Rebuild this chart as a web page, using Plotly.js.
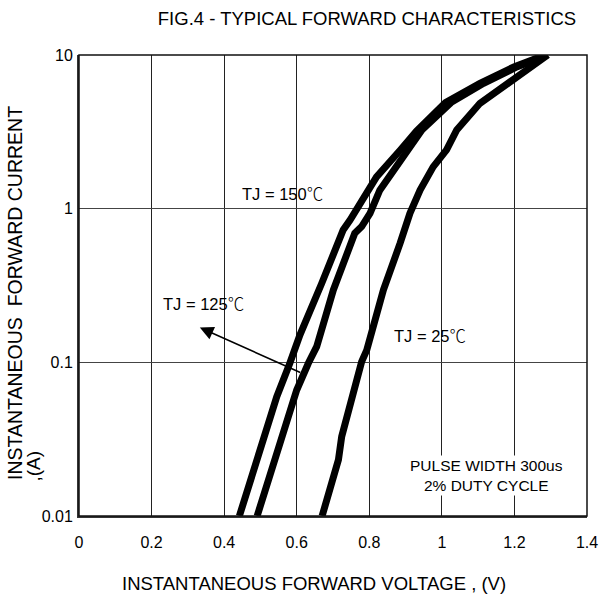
<!DOCTYPE html>
<html>
<head>
<meta charset="utf-8">
<script src="https://cdn.plot.ly/plotly-3.0.1.min.js"></script>
<style>html,body{margin:0;padding:0;background:#fff;}#chart{width:610px;height:596px;}</style>
</head>
<body>
<div id="chart"></div>
<script>
// Forward voltage (V) and forward current (A)
const vf150 = [0.442, 0.508, 0.545, 0.581, 0.609, 0.669, 0.728, 0.747, 0.820, 0.885, 0.930, 1.010, 1.105, 1.200, 1.285];
const if150 = [0.0100, 0.0313, 0.0598, 0.0986, 0.151, 0.327, 0.726, 0.843, 1.61, 2.40, 3.20, 4.90, 6.55, 8.40, 10];

const vf125 = [0.491, 0.554, 0.600, 0.632, 0.655, 0.701, 0.760, 0.779, 0.802, 0.829, 0.862, 0.905, 0.945, 1.025, 1.115, 1.208, 1.290];
const if125 = [0.0100, 0.0313, 0.066, 0.0986, 0.1265, 0.296, 0.692, 0.764, 0.933, 1.32, 1.70, 2.41, 3.25, 4.90, 6.55, 8.40, 10];

const vf25 = [0.670, 0.715, 0.724, 0.742, 0.779, 0.793, 0.839, 0.885, 0.912, 0.940, 0.976, 1.013, 1.041, 1.105, 1.188, 1.252, 1.292];
const if25 = [0.0100, 0.0232, 0.0329, 0.049, 0.101, 0.120, 0.296, 0.596, 0.933, 1.32, 1.87, 2.41, 3.25, 4.85, 6.70, 8.40, 10];

const xTicks = [0, 0.2, 0.4, 0.6, 0.8, 1.0, 1.2, 1.4];
const xTickText = ["0", "0.2", "0.4", "0.6", "0.8", "1", "1.2", "1.4"];
const yTicks = [0.01, 0.1, 1, 10];
const yTickText = ["0.01", "0.1", "1", "10"];

const titleText = "FIG.4 - TYPICAL FORWARD CHARACTERISTICS";
const xTitleText = "INSTANTANEOUS FORWARD VOLTAGE , (V)";
const yTitleLine1 = "INSTANTANEOUS\u00A0\u00A0FORWARD CURRENT";
const yTitleLine2 = ",(A)";
const degC = "<span style=\"font-family:'Noto Sans CJK SC';font-weight:300\">\u2103</span>";
const label150 = "TJ = 150" + degC;
const label125 = "TJ = 125" + degC;
const label25 = "TJ = 25" + degC;
const pulseText = "PULSE WIDTH 300us<br>2% DUTY CYCLE";

const FONT = "Arial, 'Liberation Sans', sans-serif";
const L = 79, R = 23, T = 55, B = 80, W = 610, H = 596;
const pw = W - L - R, ph = H - T - B;
const px2paperX = px => (px - L) / pw;
const py2paperY = py => (H - B - py) / ph;

const lineStyle = {color: '#000', width: 7};
const traces = [
  {x: vf150, y: if150, mode: 'lines', line: lineStyle, name: '150', hoverinfo: 'skip'},
  {x: vf125, y: if125, mode: 'lines', line: lineStyle, name: '125', hoverinfo: 'skip'},
  {x: vf25, y: if25, mode: 'lines', line: lineStyle, name: '25', hoverinfo: 'skip'}
];

const layout = {
  width: W, height: H,
  margin: {l: L, r: R, t: T, b: B},
  paper_bgcolor: '#fff', plot_bgcolor: '#fff',
  showlegend: false,
  font: {family: FONT, color: '#000', size: 16},
  title: {text: titleText, font: {family: FONT, size: 18.5, color: '#000'},
          x: 367 / W, xanchor: 'center', xref: 'container', y: 1 - 19 / H, yanchor: 'middle', yref: 'container'},
  xaxis: {
    range: [0, 1.4], tickvals: xTicks, ticktext: xTickText,
    showgrid: true, gridcolor: '#222', gridwidth: 1,
    zeroline: false, showline: true, linecolor: '#333', linewidth: 2,
    ticks: '', ticklabelstandoff: 11,
    tickfont: {family: FONT, size: 16, color: '#000'}, fixedrange: true
  },
  yaxis: {
    type: 'log', range: [-2, 1], tickvals: yTicks, ticktext: yTickText,
    showgrid: true, gridcolor: '#444', gridwidth: 1,
    zeroline: false, showline: true, linecolor: '#333', linewidth: 2,
    ticks: '', ticklabelstandoff: 1,
    tickfont: {family: FONT, size: 16, color: '#000'}, fixedrange: true
  },
  shapes: [
    {type: 'rect', xref: 'paper', yref: 'paper', x0: 0, x1: 1, y0: 0, y1: 1,
     line: {color: '#111', width: 1.5}, fillcolor: 'rgba(0,0,0,0)', layer: 'above'}
  ],
  annotations: [
    {text: xTitleText, xref: 'paper', yref: 'paper', x: px2paperX(314), y: py2paperY(583),
     xanchor: 'center', yanchor: 'middle', showarrow: false, font: {family: FONT, size: 18.5, color: '#000'}},
    {text: yTitleLine1, xref: 'paper', yref: 'paper', x: px2paperX(15), y: py2paperY(293),
     xanchor: 'center', yanchor: 'middle', textangle: -90, showarrow: false, font: {family: FONT, size: 19.5, color: '#000'}},
    {text: yTitleLine2, xref: 'paper', yref: 'paper', x: px2paperX(33), y: py2paperY(484),
     xanchor: 'center', yanchor: 'bottom', textangle: -90, showarrow: false, font: {family: FONT, size: 19, color: '#000'}},
    {text: label150, xref: 'x', yref: 'y', x: 0.562, y: 0.102, showarrow: false,
     xanchor: 'center', yanchor: 'middle', font: {family: FONT, size: 16.5, color: '#000'}},
    {text: label125, xref: 'x', yref: 'y', x: 0.342, y: -0.616, showarrow: false,
     xanchor: 'center', yanchor: 'middle', font: {family: FONT, size: 16.5, color: '#000'}},
    {text: label25, xref: 'x', yref: 'y', x: 0.967, y: -0.822, showarrow: false,
     xanchor: 'center', yanchor: 'middle', font: {family: FONT, size: 16.5, color: '#000'}},
    {text: '', xref: 'x', yref: 'y', x: 0.333, y: -0.774, axref: 'x', ayref: 'y', ax: 0.614, ay: -1.071,
     showarrow: true, arrowhead: 2, arrowsize: 1.7, arrowwidth: 1.6, arrowcolor: '#000', standoff: 0},
    {text: pulseText, xref: 'x', yref: 'y', x: 1.123, y: -1.735, showarrow: false,
     xanchor: 'center', yanchor: 'middle', align: 'center', bgcolor: '#fff',
     font: {family: FONT, size: 15.5, color: '#000'}}
  ]
};

Plotly.newPlot('chart', traces, layout, {displayModeBar: false, staticPlot: true});
</script>
</body>
</html>
